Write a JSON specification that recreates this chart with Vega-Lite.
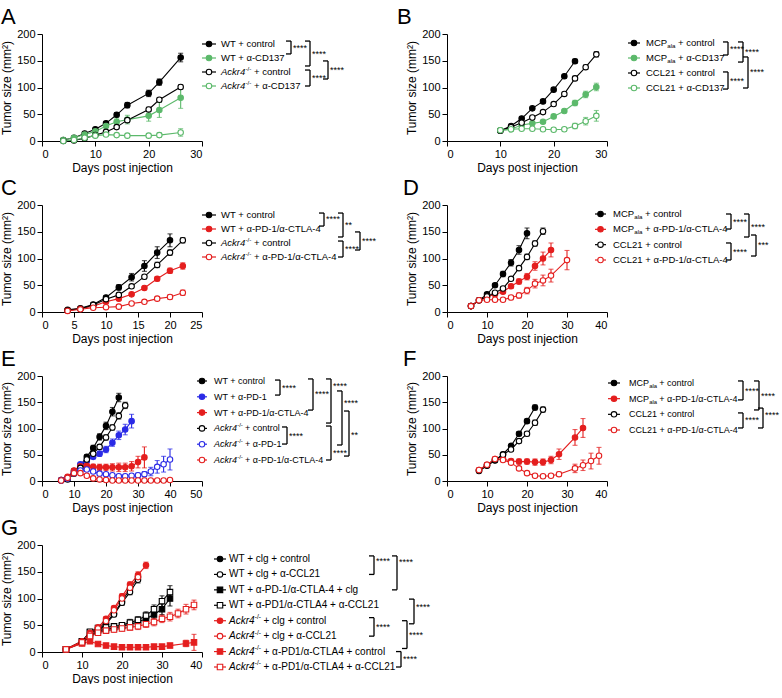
{
"$schema": "https://vega.github.io/schema/vega-lite/v6.json",
"padding": {"left": 0, "top": 6, "right": 0, "bottom": 0},
"columns": 4,
"spacing": {"row": 64, "column": 0},
"bounds": "flush",
"align": "each",
"resolve": {"scale": {"color": "independent", "fill": "independent", "stroke": "independent", "shape": "independent", "x": "independent", "y": "independent"}},
"config": {
 "view": {"stroke": null},
 "font": "Liberation Sans",
 "axis": {"grid": false, "domainColor": "#000", "tickColor": "#000", "labelColor": "#000", "titleColor": "#000", "labelFont": "Liberation Sans", "titleFont": "Liberation Sans", "labelFontSize": 11, "titleFontSize": 12, "titleFontWeight": "normal", "tickSize": 5, "domainWidth": 1, "tickWidth": 1, "labelPadding": 2, "titlePadding": 3},
 "title": {"font": "Liberation Sans", "fontSize": 22, "fontWeight": "normal", "anchor": "start", "frame": "group", "offset": -1, "color": "#000"},
 "text": {"font": "Liberation Sans", "color": "#000"},
 "point": {"size": 30}
},
"datasets": {
 "A": [
  {"g":"A1","d":4,"v":2,"e":0},{"g":"A1","d":6,"v":6,"e":1},{"g":"A1","d":8,"v":14,"e":2},{"g":"A1","d":10,"v":22,"e":2},{"g":"A1","d":12,"v":33,"e":3},{"g":"A1","d":14,"v":49,"e":4},{"g":"A1","d":16,"v":67,"e":5},{"g":"A1","d":20,"v":89,"e":6},{"g":"A1","d":22,"v":110,"e":6},{"g":"A1","d":26,"v":156,"e":8},
  {"g":"A2","d":4,"v":2,"e":0},{"g":"A2","d":6,"v":6,"e":1},{"g":"A2","d":8,"v":12,"e":2},{"g":"A2","d":10,"v":18,"e":2},{"g":"A2","d":12,"v":28,"e":3},{"g":"A2","d":14,"v":36,"e":7},{"g":"A2","d":16,"v":40,"e":8},{"g":"A2","d":20,"v":47,"e":10},{"g":"A2","d":22,"v":58,"e":14},{"g":"A2","d":26,"v":81,"e":20},
  {"g":"A3","d":4,"v":0,"e":0},{"g":"A3","d":6,"v":1,"e":1},{"g":"A3","d":8,"v":5,"e":1},{"g":"A3","d":10,"v":11,"e":2},{"g":"A3","d":12,"v":17,"e":2},{"g":"A3","d":14,"v":26,"e":3},{"g":"A3","d":16,"v":39,"e":3},{"g":"A3","d":20,"v":59,"e":4},{"g":"A3","d":22,"v":77,"e":4},{"g":"A3","d":26,"v":101,"e":4},
  {"g":"A4","d":4,"v":0,"e":0},{"g":"A4","d":6,"v":2,"e":1},{"g":"A4","d":8,"v":6,"e":1},{"g":"A4","d":10,"v":10,"e":2},{"g":"A4","d":12,"v":12,"e":2},{"g":"A4","d":14,"v":11,"e":2},{"g":"A4","d":16,"v":10,"e":2},{"g":"A4","d":20,"v":10,"e":2},{"g":"A4","d":22,"v":11,"e":4},{"g":"A4","d":26,"v":16,"e":7}
 ],
 "B": [
  {"g":"B1","d":10,"v":19,"e":1},{"g":"B1","d":12,"v":28,"e":2},{"g":"B1","d":14,"v":42,"e":2},{"g":"B1","d":16,"v":61,"e":2},{"g":"B1","d":18,"v":74,"e":3},{"g":"B1","d":20,"v":96,"e":3},{"g":"B1","d":22,"v":121,"e":3},{"g":"B1","d":24,"v":149,"e":4},
  {"g":"B2","d":10,"v":20,"e":1},{"g":"B2","d":12,"v":22,"e":1},{"g":"B2","d":14,"v":30,"e":2},{"g":"B2","d":16,"v":33,"e":2},{"g":"B2","d":18,"v":36,"e":2},{"g":"B2","d":20,"v":46,"e":3},{"g":"B2","d":22,"v":56,"e":3},{"g":"B2","d":24,"v":71,"e":5},{"g":"B2","d":26,"v":87,"e":6},{"g":"B2","d":28,"v":101,"e":7},
  {"g":"B3","d":10,"v":19,"e":1},{"g":"B3","d":12,"v":26,"e":2},{"g":"B3","d":14,"v":34,"e":2},{"g":"B3","d":16,"v":44,"e":2},{"g":"B3","d":18,"v":54,"e":3},{"g":"B3","d":20,"v":69,"e":3},{"g":"B3","d":22,"v":88,"e":3},{"g":"B3","d":24,"v":117,"e":4},{"g":"B3","d":26,"v":138,"e":4},{"g":"B3","d":28,"v":162,"e":5},
  {"g":"B4","d":10,"v":20,"e":1},{"g":"B4","d":12,"v":22,"e":1},{"g":"B4","d":14,"v":23,"e":2},{"g":"B4","d":16,"v":23,"e":2},{"g":"B4","d":18,"v":22,"e":2},{"g":"B4","d":20,"v":21,"e":2},{"g":"B4","d":22,"v":22,"e":3},{"g":"B4","d":24,"v":28,"e":5},{"g":"B4","d":26,"v":37,"e":7},{"g":"B4","d":28,"v":47,"e":10}
 ],
 "C": [
  {"g":"C1","d":4,"v":4,"e":1},{"g":"C1","d":6,"v":7,"e":1},{"g":"C1","d":8,"v":14,"e":2},{"g":"C1","d":10,"v":27,"e":3},{"g":"C1","d":12,"v":46,"e":5},{"g":"C1","d":14,"v":65,"e":7},{"g":"C1","d":16,"v":86,"e":10},{"g":"C1","d":18,"v":111,"e":11},{"g":"C1","d":20,"v":134,"e":12},
  {"g":"C2","d":4,"v":3,"e":1},{"g":"C2","d":6,"v":6,"e":1},{"g":"C2","d":8,"v":11,"e":1},{"g":"C2","d":10,"v":19,"e":2},{"g":"C2","d":12,"v":25,"e":2},{"g":"C2","d":14,"v":33,"e":2},{"g":"C2","d":16,"v":45,"e":3},{"g":"C2","d":18,"v":62,"e":4},{"g":"C2","d":20,"v":77,"e":5},{"g":"C2","d":22,"v":86,"e":6},
  {"g":"C3","d":4,"v":3,"e":1},{"g":"C3","d":6,"v":6,"e":1},{"g":"C3","d":8,"v":13,"e":1},{"g":"C3","d":10,"v":24,"e":2},{"g":"C3","d":12,"v":32,"e":3},{"g":"C3","d":14,"v":48,"e":3},{"g":"C3","d":16,"v":66,"e":4},{"g":"C3","d":18,"v":88,"e":5},{"g":"C3","d":20,"v":111,"e":5},{"g":"C3","d":22,"v":134,"e":5},
  {"g":"C4","d":4,"v":2,"e":1},{"g":"C4","d":6,"v":5,"e":1},{"g":"C4","d":8,"v":8,"e":1},{"g":"C4","d":10,"v":9,"e":1},{"g":"C4","d":12,"v":10,"e":2},{"g":"C4","d":14,"v":16,"e":2},{"g":"C4","d":16,"v":19,"e":2},{"g":"C4","d":18,"v":25,"e":3},{"g":"C4","d":20,"v":28,"e":4},{"g":"C4","d":22,"v":36,"e":5}
 ],
 "D": [
  {"g":"D1","d":6,"v":11,"e":1},{"g":"D1","d":8,"v":22,"e":1},{"g":"D1","d":10,"v":33,"e":2},{"g":"D1","d":12,"v":50,"e":3},{"g":"D1","d":14,"v":71,"e":5},{"g":"D1","d":16,"v":92,"e":6},{"g":"D1","d":18,"v":116,"e":8},{"g":"D1","d":20,"v":147,"e":10},
  {"g":"D2","d":6,"v":11,"e":1},{"g":"D2","d":8,"v":22,"e":1},{"g":"D2","d":10,"v":28,"e":2},{"g":"D2","d":12,"v":33,"e":2},{"g":"D2","d":14,"v":38,"e":3},{"g":"D2","d":16,"v":48,"e":4},{"g":"D2","d":18,"v":57,"e":5},{"g":"D2","d":20,"v":66,"e":6},{"g":"D2","d":22,"v":86,"e":8},{"g":"D2","d":24,"v":100,"e":12},{"g":"D2","d":26,"v":116,"e":13},
  {"g":"D3","d":6,"v":11,"e":1},{"g":"D3","d":8,"v":22,"e":1},{"g":"D3","d":10,"v":29,"e":2},{"g":"D3","d":12,"v":36,"e":2},{"g":"D3","d":14,"v":44,"e":3},{"g":"D3","d":16,"v":62,"e":3},{"g":"D3","d":18,"v":82,"e":4},{"g":"D3","d":20,"v":103,"e":5},{"g":"D3","d":22,"v":128,"e":5},{"g":"D3","d":24,"v":151,"e":6},
  {"g":"D4","d":6,"v":11,"e":1},{"g":"D4","d":8,"v":22,"e":1},{"g":"D4","d":10,"v":23,"e":2},{"g":"D4","d":12,"v":23,"e":2},{"g":"D4","d":14,"v":23,"e":2},{"g":"D4","d":16,"v":27,"e":4},{"g":"D4","d":18,"v":31,"e":5},{"g":"D4","d":20,"v":40,"e":6},{"g":"D4","d":22,"v":53,"e":8},{"g":"D4","d":24,"v":59,"e":10},{"g":"D4","d":26,"v":68,"e":12},{"g":"D4","d":30,"v":97,"e":18}
 ],
 "E": [
  {"g":"E1","d":6,"v":2,"e":1},{"g":"E1","d":8,"v":6,"e":1},{"g":"E1","d":10,"v":19,"e":2},{"g":"E1","d":12,"v":30,"e":3},{"g":"E1","d":14,"v":46,"e":4},{"g":"E1","d":16,"v":63,"e":5},{"g":"E1","d":18,"v":84,"e":6},{"g":"E1","d":20,"v":105,"e":7},{"g":"E1","d":22,"v":132,"e":8},{"g":"E1","d":24,"v":159,"e":8},
  {"g":"E2","d":6,"v":2,"e":1},{"g":"E2","d":8,"v":6,"e":1},{"g":"E2","d":10,"v":17,"e":2},{"g":"E2","d":12,"v":32,"e":3},{"g":"E2","d":14,"v":38,"e":3},{"g":"E2","d":16,"v":46,"e":4},{"g":"E2","d":18,"v":52,"e":5},{"g":"E2","d":20,"v":60,"e":6},{"g":"E2","d":22,"v":73,"e":7},{"g":"E2","d":24,"v":87,"e":8},{"g":"E2","d":26,"v":98,"e":10},{"g":"E2","d":28,"v":114,"e":13},
  {"g":"E3","d":6,"v":2,"e":1},{"g":"E3","d":8,"v":8,"e":1},{"g":"E3","d":10,"v":20,"e":2},{"g":"E3","d":12,"v":28,"e":3},{"g":"E3","d":14,"v":29,"e":4},{"g":"E3","d":16,"v":27,"e":5},{"g":"E3","d":18,"v":26,"e":6},{"g":"E3","d":20,"v":26,"e":6},{"g":"E3","d":22,"v":26,"e":7},{"g":"E3","d":24,"v":26,"e":8},{"g":"E3","d":26,"v":26,"e":8},{"g":"E3","d":28,"v":28,"e":9},{"g":"E3","d":30,"v":36,"e":11},{"g":"E3","d":32,"v":45,"e":20},
  {"g":"E4","d":6,"v":1,"e":1},{"g":"E4","d":8,"v":3,"e":1},{"g":"E4","d":10,"v":14,"e":2},{"g":"E4","d":12,"v":25,"e":3},{"g":"E4","d":14,"v":41,"e":3},{"g":"E4","d":16,"v":52,"e":4},{"g":"E4","d":18,"v":65,"e":4},{"g":"E4","d":20,"v":83,"e":5},{"g":"E4","d":22,"v":102,"e":5},{"g":"E4","d":24,"v":124,"e":6},{"g":"E4","d":26,"v":144,"e":6},
  {"g":"E5","d":6,"v":1,"e":1},{"g":"E5","d":8,"v":5,"e":1},{"g":"E5","d":10,"v":15,"e":2},{"g":"E5","d":12,"v":20,"e":3},{"g":"E5","d":14,"v":22,"e":3},{"g":"E5","d":16,"v":18,"e":3},{"g":"E5","d":18,"v":14,"e":3},{"g":"E5","d":20,"v":13,"e":3},{"g":"E5","d":22,"v":11,"e":3},{"g":"E5","d":24,"v":9,"e":3},{"g":"E5","d":26,"v":9,"e":3},{"g":"E5","d":28,"v":10,"e":3},{"g":"E5","d":30,"v":11,"e":4},{"g":"E5","d":32,"v":13,"e":5},{"g":"E5","d":34,"v":18,"e":8},{"g":"E5","d":36,"v":27,"e":12},{"g":"E5","d":38,"v":32,"e":15},{"g":"E5","d":40,"v":41,"e":20},
  {"g":"E6","d":6,"v":1,"e":1},{"g":"E6","d":8,"v":6,"e":1},{"g":"E6","d":10,"v":15,"e":2},{"g":"E6","d":12,"v":15,"e":2},{"g":"E6","d":14,"v":10,"e":2},{"g":"E6","d":16,"v":5,"e":1},{"g":"E6","d":18,"v":3,"e":1},{"g":"E6","d":20,"v":2,"e":1},{"g":"E6","d":22,"v":1,"e":0},{"g":"E6","d":24,"v":1,"e":0},{"g":"E6","d":26,"v":1,"e":0},{"g":"E6","d":28,"v":1,"e":0},{"g":"E6","d":30,"v":1,"e":0},{"g":"E6","d":32,"v":1,"e":0},{"g":"E6","d":34,"v":1,"e":0},{"g":"E6","d":36,"v":1,"e":0},{"g":"E6","d":38,"v":1,"e":0},{"g":"E6","d":40,"v":2,"e":1}
 ],
 "F": [
  {"g":"F1","d":8,"v":19,"e":1},{"g":"F1","d":10,"v":29,"e":2},{"g":"F1","d":12,"v":39,"e":2},{"g":"F1","d":14,"v":51,"e":3},{"g":"F1","d":16,"v":67,"e":3},{"g":"F1","d":18,"v":90,"e":4},{"g":"F1","d":20,"v":114,"e":4},{"g":"F1","d":22,"v":140,"e":5},
  {"g":"F2","d":8,"v":21,"e":1},{"g":"F2","d":10,"v":31,"e":2},{"g":"F2","d":12,"v":42,"e":2},{"g":"F2","d":14,"v":42,"e":3},{"g":"F2","d":16,"v":38,"e":4},{"g":"F2","d":18,"v":37,"e":5},{"g":"F2","d":20,"v":37,"e":5},{"g":"F2","d":22,"v":36,"e":6},{"g":"F2","d":24,"v":36,"e":6},{"g":"F2","d":26,"v":40,"e":7},{"g":"F2","d":28,"v":51,"e":10},{"g":"F2","d":32,"v":83,"e":15},{"g":"F2","d":34,"v":101,"e":18},
  {"g":"F3","d":8,"v":20,"e":1},{"g":"F3","d":10,"v":30,"e":2},{"g":"F3","d":12,"v":40,"e":2},{"g":"F3","d":14,"v":50,"e":3},{"g":"F3","d":16,"v":60,"e":3},{"g":"F3","d":18,"v":76,"e":4},{"g":"F3","d":20,"v":90,"e":4},{"g":"F3","d":22,"v":111,"e":5},{"g":"F3","d":24,"v":136,"e":5},
  {"g":"F4","d":8,"v":21,"e":1},{"g":"F4","d":10,"v":31,"e":2},{"g":"F4","d":12,"v":42,"e":2},{"g":"F4","d":14,"v":40,"e":3},{"g":"F4","d":16,"v":35,"e":3},{"g":"F4","d":18,"v":24,"e":3},{"g":"F4","d":20,"v":15,"e":3},{"g":"F4","d":22,"v":10,"e":3},{"g":"F4","d":24,"v":9,"e":3},{"g":"F4","d":26,"v":10,"e":3},{"g":"F4","d":28,"v":13,"e":4},{"g":"F4","d":32,"v":24,"e":8},{"g":"F4","d":34,"v":30,"e":10},{"g":"F4","d":36,"v":38,"e":15},{"g":"F4","d":38,"v":48,"e":16}
 ],
 "G": [
  {"g":"G1","d":6,"v":5,"e":1},{"g":"G1","d":10,"v":18,"e":2},{"g":"G1","d":12,"v":30,"e":3},{"g":"G1","d":14,"v":40,"e":3},{"g":"G1","d":16,"v":55,"e":4},{"g":"G1","d":18,"v":72,"e":4},{"g":"G1","d":20,"v":95,"e":5},{"g":"G1","d":22,"v":118,"e":5},{"g":"G1","d":24,"v":140,"e":6},
  {"g":"G2","d":6,"v":5,"e":1},{"g":"G2","d":10,"v":17,"e":2},{"g":"G2","d":12,"v":28,"e":3},{"g":"G2","d":14,"v":38,"e":3},{"g":"G2","d":16,"v":52,"e":4},{"g":"G2","d":18,"v":70,"e":4},{"g":"G2","d":20,"v":92,"e":5},{"g":"G2","d":22,"v":112,"e":5},{"g":"G2","d":24,"v":135,"e":6},
  {"g":"G3","d":6,"v":5,"e":1},{"g":"G3","d":10,"v":20,"e":2},{"g":"G3","d":12,"v":37,"e":3},{"g":"G3","d":14,"v":40,"e":4},{"g":"G3","d":16,"v":42,"e":4},{"g":"G3","d":18,"v":45,"e":5},{"g":"G3","d":20,"v":48,"e":5},{"g":"G3","d":22,"v":52,"e":6},{"g":"G3","d":24,"v":56,"e":6},{"g":"G3","d":26,"v":62,"e":7},{"g":"G3","d":28,"v":70,"e":8},{"g":"G3","d":30,"v":80,"e":10},{"g":"G3","d":32,"v":100,"e":14},
  {"g":"G4","d":6,"v":5,"e":1},{"g":"G4","d":10,"v":20,"e":2},{"g":"G4","d":12,"v":38,"e":3},{"g":"G4","d":14,"v":45,"e":4},{"g":"G4","d":16,"v":46,"e":4},{"g":"G4","d":18,"v":48,"e":5},{"g":"G4","d":20,"v":50,"e":5},{"g":"G4","d":22,"v":55,"e":6},{"g":"G4","d":24,"v":60,"e":6},{"g":"G4","d":26,"v":68,"e":7},{"g":"G4","d":28,"v":80,"e":8},{"g":"G4","d":30,"v":95,"e":10},{"g":"G4","d":32,"v":112,"e":12},
  {"g":"G5","d":6,"v":5,"e":1},{"g":"G5","d":10,"v":20,"e":2},{"g":"G5","d":12,"v":36,"e":3},{"g":"G5","d":14,"v":46,"e":3},{"g":"G5","d":16,"v":62,"e":4},{"g":"G5","d":18,"v":82,"e":4},{"g":"G5","d":20,"v":104,"e":5},{"g":"G5","d":22,"v":126,"e":5},{"g":"G5","d":24,"v":144,"e":6},{"g":"G5","d":26,"v":162,"e":6},
  {"g":"G6","d":6,"v":5,"e":1},{"g":"G6","d":10,"v":19,"e":2},{"g":"G6","d":12,"v":33,"e":3},{"g":"G6","d":14,"v":44,"e":3},{"g":"G6","d":16,"v":58,"e":4},{"g":"G6","d":18,"v":78,"e":4},{"g":"G6","d":20,"v":100,"e":5},{"g":"G6","d":22,"v":120,"e":5},{"g":"G6","d":24,"v":140,"e":6},
  {"g":"G7","d":6,"v":5,"e":1},{"g":"G7","d":10,"v":16,"e":2},{"g":"G7","d":12,"v":20,"e":3},{"g":"G7","d":14,"v":15,"e":3},{"g":"G7","d":16,"v":12,"e":3},{"g":"G7","d":18,"v":10,"e":3},{"g":"G7","d":20,"v":9,"e":3},{"g":"G7","d":22,"v":9,"e":3},{"g":"G7","d":24,"v":9,"e":3},{"g":"G7","d":26,"v":9,"e":3},{"g":"G7","d":28,"v":10,"e":3},{"g":"G7","d":30,"v":10,"e":3},{"g":"G7","d":32,"v":12,"e":4},{"g":"G7","d":36,"v":16,"e":6},{"g":"G7","d":38,"v":18,"e":15},
  {"g":"G8","d":6,"v":5,"e":1},{"g":"G8","d":10,"v":18,"e":2},{"g":"G8","d":12,"v":30,"e":3},{"g":"G8","d":14,"v":36,"e":4},{"g":"G8","d":16,"v":40,"e":4},{"g":"G8","d":18,"v":42,"e":5},{"g":"G8","d":20,"v":44,"e":5},{"g":"G8","d":22,"v":46,"e":5},{"g":"G8","d":24,"v":48,"e":6},{"g":"G8","d":26,"v":52,"e":6},{"g":"G8","d":28,"v":56,"e":7},{"g":"G8","d":30,"v":62,"e":7},{"g":"G8","d":32,"v":66,"e":8},{"g":"G8","d":34,"v":72,"e":8},{"g":"G8","d":36,"v":80,"e":9},{"g":"G8","d":38,"v":88,"e":9}
 ],
 "LA": [
  {"g":"A1","r":1,"k":"plain","pre":"WT + control"},
  {"g":"A2","r":2,"k":"plain","pre":"WT + α-CD137"},
  {"g":"A3","r":3,"k":"ital","pre":"Ackr4","sup":"-/-","rest":"+ control"},
  {"g":"A4","r":4,"k":"ital","pre":"Ackr4","sup":"-/-","rest":"+ α-CD137"}
 ],
 "LB": [
  {"g":"B1","r":1,"k":"sub","pre":"MCP","sup":"ala","rest":"+ control"},
  {"g":"B2","r":2,"k":"sub","pre":"MCP","sup":"ala","rest":"+ α-CD137"},
  {"g":"B3","r":3,"k":"plain","pre":"CCL21 + control"},
  {"g":"B4","r":4,"k":"plain","pre":"CCL21 + α-CD137"}
 ],
 "LC": [
  {"g":"C1","r":1,"k":"plain","pre":"WT + control"},
  {"g":"C2","r":2,"k":"plain","pre":"WT + α-PD-1/α-CTLA-4"},
  {"g":"C3","r":3,"k":"ital","pre":"Ackr4","sup":"-/-","rest":"+ control"},
  {"g":"C4","r":4,"k":"ital","pre":"Ackr4","sup":"-/-","rest":"+ α-PD-1/α-CTLA-4"}
 ],
 "LD": [
  {"g":"D1","r":1,"k":"sub","pre":"MCP","sup":"ala","rest":"+ control"},
  {"g":"D2","r":2,"k":"sub","pre":"MCP","sup":"ala","rest":"+ α-PD-1/α-CTLA-4"},
  {"g":"D3","r":3,"k":"plain","pre":"CCL21 + control"},
  {"g":"D4","r":4,"k":"plain","pre":"CCL21 + α-PD-1/α-CTLA-4"}
 ],
 "LE": [
  {"g":"E1","r":1,"k":"plain","pre":"WT + control"},
  {"g":"E2","r":2,"k":"plain","pre":"WT + α-PD-1"},
  {"g":"E3","r":3,"k":"plain","pre":"WT + α-PD-1/α-CTLA-4"},
  {"g":"E4","r":4,"k":"ital","pre":"Ackr4","sup":"-/-","rest":"+ control"},
  {"g":"E5","r":5,"k":"ital","pre":"Ackr4","sup":"-/-","rest":"+ α-PD-1"},
  {"g":"E6","r":6,"k":"ital","pre":"Ackr4","sup":"-/-","rest":"+ α-PD-1/α-CTLA-4"}
 ],
 "LF": [
  {"g":"F1","r":1,"k":"sub","pre":"MCP","sup":"ala","rest":"+ control"},
  {"g":"F2","r":2,"k":"sub","pre":"MCP","sup":"ala","rest":"+ α-PD-1/α-CTLA-4"},
  {"g":"F3","r":3,"k":"plain","pre":"CCL21 + control"},
  {"g":"F4","r":4,"k":"plain","pre":"CCL21 + α-PD-1/α-CTLA-4"}
 ],
 "LG": [
  {"g":"G1","r":1,"k":"plain","pre":"WT + clg + control"},
  {"g":"G2","r":2,"k":"plain","pre":"WT + clg + α-CCL21"},
  {"g":"G3","r":3,"k":"plain","pre":"WT + α-PD-1/α-CTLA-4 + clg"},
  {"g":"G4","r":4,"k":"plain","pre":"WT + α-PD1/α-CTLA4 + α-CCL21"},
  {"g":"G5","r":5,"k":"ital","pre":"Ackr4","sup":"-/-","rest":"+ clg + control"},
  {"g":"G6","r":6,"k":"ital","pre":"Ackr4","sup":"-/-","rest":"+ clg + α-CCL21"},
  {"g":"G7","r":7,"k":"ital","pre":"Ackr4","sup":"-/-","rest":"+ α-PD1/α-CTLA4 + control"},
  {"g":"G8","r":8,"k":"ital","pre":"Ackr4","sup":"-/-","rest":"+ α-PD1/α-CTLA4 + α-CCL21"}
 ],
 "BA": [
  {"x":89,"xa":84,"y1":0.79,"y2":1.71,"sy":1.25,"s":"****"},
  {"x":108,"xa":103,"y1":0.79,"y2":2.57,"sy":1.68,"s":"****"},
  {"x":108,"xa":103,"y1":2.86,"y2":4.0,"sy":3.43,"s":"****"},
  {"x":126,"xa":121,"y1":2.21,"y2":3.5,"sy":2.86,"s":"****"}
 ],
 "BB": [
  {"x":121,"xa":116,"y1":0.93,"y2":1.8,"sy":1.37,"s":"****"},
  {"x":136,"xa":131,"y1":0.93,"y2":2.27,"sy":1.6,"s":"****"},
  {"x":121,"xa":116,"y1":2.93,"y2":4.07,"sy":3.5,"s":"****"},
  {"x":141,"xa":136,"y1":1.93,"y2":4.0,"sy":2.93,"s":"****"}
 ],
 "BC": [
  {"x":122,"xa":117,"y1":0.86,"y2":1.79,"sy":1.32,"s":"****"},
  {"x":141,"xa":136,"y1":0.86,"y2":2.57,"sy":1.71,"s":"**"},
  {"x":141,"xa":136,"y1":2.86,"y2":4.0,"sy":3.43,"s":"****"},
  {"x":158,"xa":153,"y1":2.21,"y2":3.5,"sy":2.86,"s":"****"}
 ],
 "BD": [
  {"x":124,"xa":119,"y1":1.0,"y2":1.98,"sy":1.5,"s":"****"},
  {"x":142,"xa":137,"y1":1.0,"y2":2.5,"sy":1.85,"s":"****"},
  {"x":124,"xa":119,"y1":2.89,"y2":4.0,"sy":3.45,"s":"****"},
  {"x":149,"xa":144,"y1":2.37,"y2":3.74,"sy":3.05,"s":"***"}
 ],
 "BE": [
  {"x":78,"xa":73,"y1":0.94,"y2":1.89,"sy":1.44,"s":"****"},
  {"x":111,"xa":106,"y1":0.87,"y2":2.84,"sy":1.82,"s":"****"},
  {"x":129,"xa":124,"y1":0.87,"y2":3.66,"sy":1.32,"s":"****"},
  {"x":140,"xa":135,"y1":1.63,"y2":5.05,"sy":2.39,"s":"****"},
  {"x":147,"xa":142,"y1":2.9,"y2":5.75,"sy":4.42,"s":"**"},
  {"x":85,"xa":80,"y1":3.91,"y2":4.99,"sy":4.48,"s":"****"},
  {"x":129,"xa":124,"y1":3.85,"y2":6.0,"sy":5.56,"s":"****"}
 ],
 "BF": [
  {"x":136,"xa":131,"y1":0.87,"y2":2.08,"sy":1.51,"s":"****"},
  {"x":152,"xa":147,"y1":0.87,"y2":2.72,"sy":1.83,"s":"****"},
  {"x":136,"xa":131,"y1":2.91,"y2":3.87,"sy":3.36,"s":"****"},
  {"x":156,"xa":151,"y1":2.6,"y2":3.87,"sy":3.04,"s":"****"}
 ],
 "BG": [
  {"x":172,"xa":167,"y1":0.8,"y2":2.0,"sy":1.1,"s":"****"},
  {"x":195,"xa":190,"y1":0.8,"y2":3.0,"sy":1.2,"s":"****"},
  {"x":212,"xa":207,"y1":3.6,"y2":5.2,"sy":4.1,"s":"****"},
  {"x":172,"xa":167,"y1":4.8,"y2":6.0,"sy":5.4,"s":"****"},
  {"x":205,"xa":200,"y1":5.0,"y2":6.8,"sy":5.9,"s":"****"},
  {"x":199,"xa":194,"y1":7.0,"y2":8.0,"sy":7.5,"s":"****"}
 ]
},
"concat": [
 {
  "title": {"text": "A", "dx": -41},
  "width": 160, "height": 107,
  "data": {"name": "A"},
  "encoding": {
   "x": {"field": "d", "type": "quantitative", "scale": {"domain": [0, 30], "nice": false, "zero": false}, "axis": {"title": "Days post injection", "values": [0, 10, 20, 30]}},
   "y": {"field": "v", "type": "quantitative", "scale": {"domain": [0, 200], "nice": false}, "axis": {"title": "Tumor size (mm²)", "values": [0, 50, 100, 150, 200]}}
  },
  "layer": [
   {"mark": {"type": "line", "strokeWidth": 1.1}, "encoding": {"color": {"field": "g", "type": "nominal", "scale": {"domain": ["A1","A2","A3","A4"], "range": ["#000000","#5cb96b","#000000","#5cb96b"]}, "legend": null}}},
   {"transform": [{"filter": "datum.e > 0"}], "mark": {"type": "errorbar", "ticks": {"size": 5}, "thickness": 1.1}, "encoding": {"yError": {"field": "e"}, "color": {"field": "g", "type": "nominal", "scale": {"domain": ["A1","A2","A3","A4"], "range": ["#000000","#5cb96b","#000000","#5cb96b"]}, "legend": null}}},
   {"mark": {"type": "point", "filled": true, "shape": "circle", "size": 30, "strokeWidth": 1.1, "opacity": 1}, "encoding": {"stroke": {"field": "g", "type": "nominal", "scale": {"domain": ["A1","A2","A3","A4"], "range": ["#000000","#5cb96b","#000000","#5cb96b"]}, "legend": null}, "fill": {"field": "g", "type": "nominal", "scale": {"domain": ["A1","A2","A3","A4"], "range": ["#000000","#5cb96b","#ffffff","#ffffff"]}, "legend": null}}}
  ]
 },
 {
  "width": 245, "height": 107,
  "layer": [
   {"data": {"name": "LA"}, "mark": {"type": "rule", "strokeWidth": 1.2}, "encoding": {"x": {"datum": 0, "type": "quantitative", "scale": {"domain": [0, 245], "nice": false, "zero": false}, "axis": null}, "x2": {"datum": 14}, "y": {"field": "r", "type": "quantitative", "scale": {"domain": [1, 4], "range": [10, 52], "nice": false, "zero": false}, "axis": null}, "color": {"field": "g", "type": "nominal", "scale": {"domain": ["A1","A2","A3","A4"], "range": ["#000000","#5cb96b","#000000","#5cb96b"]}, "legend": null}}},
   {"data": {"name": "LA"}, "mark": {"type": "point", "filled": true, "shape": "circle", "size": 30, "strokeWidth": 1.1, "opacity": 1}, "encoding": {"x": {"datum": 7, "type": "quantitative", "scale": {"domain": [0, 245], "nice": false, "zero": false}, "axis": null}, "y": {"field": "r", "type": "quantitative", "scale": {"domain": [1, 4], "range": [10, 52], "nice": false, "zero": false}, "axis": null}, "stroke": {"field": "g", "type": "nominal", "scale": {"domain": ["A1","A2","A3","A4"], "range": ["#000000","#5cb96b","#000000","#5cb96b"]}, "legend": null}, "fill": {"field": "g", "type": "nominal", "scale": {"domain": ["A1","A2","A3","A4"], "range": ["#000000","#5cb96b","#ffffff","#ffffff"]}, "legend": null}}},
   {"data": {"name": "LA"}, "transform": [{"filter": "datum.k == 'plain'"}], "mark": {"type": "text", "align": "left", "baseline": "middle", "fontSize": 9.5}, "encoding": {"x": {"datum": 19, "type": "quantitative", "scale": {"domain": [0, 245], "nice": false, "zero": false}, "axis": null}, "y": {"field": "r", "type": "quantitative", "scale": {"domain": [1, 4], "range": [10, 52], "nice": false, "zero": false}, "axis": null}, "text": {"field": "pre"}}},
   {"data": {"name": "LA"}, "transform": [{"filter": "datum.k == 'ital'"}], "mark": {"type": "text", "align": "left", "baseline": "middle", "fontSize": 9.5, "fontStyle": "italic"}, "encoding": {"x": {"datum": 19, "type": "quantitative", "scale": {"domain": [0, 245], "nice": false, "zero": false}, "axis": null}, "y": {"field": "r", "type": "quantitative", "scale": {"domain": [1, 4], "range": [10, 52], "nice": false, "zero": false}, "axis": null}, "text": {"field": "pre"}}},
   {"data": {"name": "LA"}, "transform": [{"filter": "datum.k == 'ital'"}], "mark": {"type": "text", "align": "left", "baseline": "middle", "fontSize": 6.2, "dx": 24.5, "dy": -3.5}, "encoding": {"x": {"datum": 19, "type": "quantitative", "scale": {"domain": [0, 245], "nice": false, "zero": false}, "axis": null}, "y": {"field": "r", "type": "quantitative", "scale": {"domain": [1, 4], "range": [10, 52], "nice": false, "zero": false}, "axis": null}, "text": {"field": "sup"}}},
   {"data": {"name": "LA"}, "transform": [{"filter": "datum.k == 'ital'"}], "mark": {"type": "text", "align": "left", "baseline": "middle", "fontSize": 9.5, "dx": 33}, "encoding": {"x": {"datum": 19, "type": "quantitative", "scale": {"domain": [0, 245], "nice": false, "zero": false}, "axis": null}, "y": {"field": "r", "type": "quantitative", "scale": {"domain": [1, 4], "range": [10, 52], "nice": false, "zero": false}, "axis": null}, "text": {"field": "rest"}}},
   {"data": {"name": "BA"}, "mark": {"type": "rule", "color": "#000", "strokeWidth": 1.3}, "encoding": {"x": {"field": "x", "type": "quantitative", "scale": {"domain": [0, 245], "nice": false, "zero": false}, "axis": null}, "y": {"field": "y1", "type": "quantitative", "scale": {"domain": [1, 4], "range": [10, 52], "nice": false, "zero": false}, "axis": null}, "y2": {"field": "y2"}}},
   {"data": {"name": "BA"}, "mark": {"type": "rule", "color": "#000", "strokeWidth": 1.3}, "encoding": {"x": {"field": "xa", "type": "quantitative", "scale": {"domain": [0, 245], "nice": false, "zero": false}, "axis": null}, "x2": {"field": "x"}, "y": {"field": "y1", "type": "quantitative", "scale": {"domain": [1, 4], "range": [10, 52], "nice": false, "zero": false}, "axis": null}}},
   {"data": {"name": "BA"}, "mark": {"type": "rule", "color": "#000", "strokeWidth": 1.3}, "encoding": {"x": {"field": "xa", "type": "quantitative", "scale": {"domain": [0, 245], "nice": false, "zero": false}, "axis": null}, "x2": {"field": "x"}, "y": {"field": "y2", "type": "quantitative", "scale": {"domain": [1, 4], "range": [10, 52], "nice": false, "zero": false}, "axis": null}}},
   {"data": {"name": "BA"}, "mark": {"type": "text", "align": "left", "baseline": "middle", "fontSize": 9, "dx": 2}, "encoding": {"x": {"field": "x", "type": "quantitative", "scale": {"domain": [0, 245], "nice": false, "zero": false}, "axis": null}, "y": {"field": "sy", "type": "quantitative", "scale": {"domain": [1, 4], "range": [10, 52], "nice": false, "zero": false}, "axis": null}, "text": {"field": "s"}}}
  ]
 },
 {
  "title": {"text": "B", "dx": -50},
  "width": 160, "height": 107,
  "data": {"name": "B"},
  "encoding": {
   "x": {"field": "d", "type": "quantitative", "scale": {"domain": [0, 30], "nice": false, "zero": false}, "axis": {"title": "Days post injection", "values": [0, 10, 20, 30]}},
   "y": {"field": "v", "type": "quantitative", "scale": {"domain": [0, 200], "nice": false}, "axis": {"title": "Tumor size (mm²)", "values": [0, 50, 100, 150, 200]}}
  },
  "layer": [
   {"mark": {"type": "line", "strokeWidth": 1.1}, "encoding": {"color": {"field": "g", "type": "nominal", "scale": {"domain": ["B1","B2","B3","B4"], "range": ["#000000","#5cb96b","#000000","#5cb96b"]}, "legend": null}}},
   {"transform": [{"filter": "datum.e > 0"}], "mark": {"type": "errorbar", "ticks": {"size": 5}, "thickness": 1.1}, "encoding": {"yError": {"field": "e"}, "color": {"field": "g", "type": "nominal", "scale": {"domain": ["B1","B2","B3","B4"], "range": ["#000000","#5cb96b","#000000","#5cb96b"]}, "legend": null}}},
   {"mark": {"type": "point", "filled": true, "shape": "circle", "size": 30, "strokeWidth": 1.1, "opacity": 1}, "encoding": {"stroke": {"field": "g", "type": "nominal", "scale": {"domain": ["B1","B2","B3","B4"], "range": ["#000000","#5cb96b","#000000","#5cb96b"]}, "legend": null}, "fill": {"field": "g", "type": "nominal", "scale": {"domain": ["B1","B2","B3","B4"], "range": ["#000000","#5cb96b","#ffffff","#ffffff"]}, "legend": null}}}
  ]
 },
 {
  "width": 174, "height": 107,
  "layer": [
   {"data": {"name": "LB"}, "mark": {"type": "rule", "strokeWidth": 1.2}, "encoding": {"x": {"datum": 21, "type": "quantitative", "scale": {"domain": [0, 174], "nice": false, "zero": false}, "axis": null}, "x2": {"datum": 33}, "y": {"field": "r", "type": "quantitative", "scale": {"domain": [1, 4], "range": [9, 54], "nice": false, "zero": false}, "axis": null}, "color": {"field": "g", "type": "nominal", "scale": {"domain": ["B1","B2","B3","B4"], "range": ["#000000","#5cb96b","#000000","#5cb96b"]}, "legend": null}}},
   {"data": {"name": "LB"}, "mark": {"type": "point", "filled": true, "shape": "circle", "size": 30, "strokeWidth": 1.1, "opacity": 1}, "encoding": {"x": {"datum": 27, "type": "quantitative", "scale": {"domain": [0, 174], "nice": false, "zero": false}, "axis": null}, "y": {"field": "r", "type": "quantitative", "scale": {"domain": [1, 4], "range": [9, 54], "nice": false, "zero": false}, "axis": null}, "stroke": {"field": "g", "type": "nominal", "scale": {"domain": ["B1","B2","B3","B4"], "range": ["#000000","#5cb96b","#000000","#5cb96b"]}, "legend": null}, "fill": {"field": "g", "type": "nominal", "scale": {"domain": ["B1","B2","B3","B4"], "range": ["#000000","#5cb96b","#ffffff","#ffffff"]}, "legend": null}}},
   {"data": {"name": "LB"}, "transform": [{"filter": "datum.k == 'plain'"}], "mark": {"type": "text", "align": "left", "baseline": "middle", "fontSize": 9.5}, "encoding": {"x": {"datum": 39, "type": "quantitative", "scale": {"domain": [0, 174], "nice": false, "zero": false}, "axis": null}, "y": {"field": "r", "type": "quantitative", "scale": {"domain": [1, 4], "range": [9, 54], "nice": false, "zero": false}, "axis": null}, "text": {"field": "pre"}}},
   {"data": {"name": "LB"}, "transform": [{"filter": "datum.k == 'sub'"}], "mark": {"type": "text", "align": "left", "baseline": "middle", "fontSize": 9.5}, "encoding": {"x": {"datum": 39, "type": "quantitative", "scale": {"domain": [0, 174], "nice": false, "zero": false}, "axis": null}, "y": {"field": "r", "type": "quantitative", "scale": {"domain": [1, 4], "range": [9, 54], "nice": false, "zero": false}, "axis": null}, "text": {"field": "pre"}}},
   {"data": {"name": "LB"}, "transform": [{"filter": "datum.k == 'sub'"}], "mark": {"type": "text", "align": "left", "baseline": "middle", "fontSize": 6.2, "dx": 21.3, "dy": 3}, "encoding": {"x": {"datum": 39, "type": "quantitative", "scale": {"domain": [0, 174], "nice": false, "zero": false}, "axis": null}, "y": {"field": "r", "type": "quantitative", "scale": {"domain": [1, 4], "range": [9, 54], "nice": false, "zero": false}, "axis": null}, "text": {"field": "sup"}}},
   {"data": {"name": "LB"}, "transform": [{"filter": "datum.k == 'sub'"}], "mark": {"type": "text", "align": "left", "baseline": "middle", "fontSize": 9.5, "dx": 32}, "encoding": {"x": {"datum": 39, "type": "quantitative", "scale": {"domain": [0, 174], "nice": false, "zero": false}, "axis": null}, "y": {"field": "r", "type": "quantitative", "scale": {"domain": [1, 4], "range": [9, 54], "nice": false, "zero": false}, "axis": null}, "text": {"field": "rest"}}},
   {"data": {"name": "BB"}, "mark": {"type": "rule", "color": "#000", "strokeWidth": 1.3}, "encoding": {"x": {"field": "x", "type": "quantitative", "scale": {"domain": [0, 174], "nice": false, "zero": false}, "axis": null}, "y": {"field": "y1", "type": "quantitative", "scale": {"domain": [1, 4], "range": [9, 54], "nice": false, "zero": false}, "axis": null}, "y2": {"field": "y2"}}},
   {"data": {"name": "BB"}, "mark": {"type": "rule", "color": "#000", "strokeWidth": 1.3}, "encoding": {"x": {"field": "xa", "type": "quantitative", "scale": {"domain": [0, 174], "nice": false, "zero": false}, "axis": null}, "x2": {"field": "x"}, "y": {"field": "y1", "type": "quantitative", "scale": {"domain": [1, 4], "range": [9, 54], "nice": false, "zero": false}, "axis": null}}},
   {"data": {"name": "BB"}, "mark": {"type": "rule", "color": "#000", "strokeWidth": 1.3}, "encoding": {"x": {"field": "xa", "type": "quantitative", "scale": {"domain": [0, 174], "nice": false, "zero": false}, "axis": null}, "x2": {"field": "x"}, "y": {"field": "y2", "type": "quantitative", "scale": {"domain": [1, 4], "range": [9, 54], "nice": false, "zero": false}, "axis": null}}},
   {"data": {"name": "BB"}, "mark": {"type": "text", "align": "left", "baseline": "middle", "fontSize": 9, "dx": 2}, "encoding": {"x": {"field": "x", "type": "quantitative", "scale": {"domain": [0, 174], "nice": false, "zero": false}, "axis": null}, "y": {"field": "sy", "type": "quantitative", "scale": {"domain": [1, 4], "range": [9, 54], "nice": false, "zero": false}, "axis": null}, "text": {"field": "s"}}}
  ]
 },
 {
  "title": {"text": "C", "dx": -41},
  "width": 160, "height": 107,
  "data": {"name": "C"},
  "encoding": {
   "x": {"field": "d", "type": "quantitative", "scale": {"domain": [0, 25], "nice": false, "zero": false}, "axis": {"title": "Days post injection", "values": [0, 5, 10, 15, 20, 25]}},
   "y": {"field": "v", "type": "quantitative", "scale": {"domain": [0, 200], "nice": false}, "axis": {"title": "Tumor size (mm²)", "values": [0, 50, 100, 150, 200]}}
  },
  "layer": [
   {"mark": {"type": "line", "strokeWidth": 1.1}, "encoding": {"color": {"field": "g", "type": "nominal", "scale": {"domain": ["C1","C2","C3","C4"], "range": ["#000000","#e41e1e","#000000","#e41e1e"]}, "legend": null}}},
   {"transform": [{"filter": "datum.e > 0"}], "mark": {"type": "errorbar", "ticks": {"size": 5}, "thickness": 1.1}, "encoding": {"yError": {"field": "e"}, "color": {"field": "g", "type": "nominal", "scale": {"domain": ["C1","C2","C3","C4"], "range": ["#000000","#e41e1e","#000000","#e41e1e"]}, "legend": null}}},
   {"mark": {"type": "point", "filled": true, "shape": "circle", "size": 30, "strokeWidth": 1.1, "opacity": 1}, "encoding": {"stroke": {"field": "g", "type": "nominal", "scale": {"domain": ["C1","C2","C3","C4"], "range": ["#000000","#e41e1e","#000000","#e41e1e"]}, "legend": null}, "fill": {"field": "g", "type": "nominal", "scale": {"domain": ["C1","C2","C3","C4"], "range": ["#000000","#e41e1e","#ffffff","#ffffff"]}, "legend": null}}}
  ]
 },
 {
  "width": 245, "height": 107,
  "layer": [
   {"data": {"name": "LC"}, "mark": {"type": "rule", "strokeWidth": 1.2}, "encoding": {"x": {"datum": 0, "type": "quantitative", "scale": {"domain": [0, 245], "nice": false, "zero": false}, "axis": null}, "x2": {"datum": 14}, "y": {"field": "r", "type": "quantitative", "scale": {"domain": [1, 4], "range": [10, 52], "nice": false, "zero": false}, "axis": null}, "color": {"field": "g", "type": "nominal", "scale": {"domain": ["C1","C2","C3","C4"], "range": ["#000000","#e41e1e","#000000","#e41e1e"]}, "legend": null}}},
   {"data": {"name": "LC"}, "mark": {"type": "point", "filled": true, "shape": "circle", "size": 30, "strokeWidth": 1.1, "opacity": 1}, "encoding": {"x": {"datum": 7, "type": "quantitative", "scale": {"domain": [0, 245], "nice": false, "zero": false}, "axis": null}, "y": {"field": "r", "type": "quantitative", "scale": {"domain": [1, 4], "range": [10, 52], "nice": false, "zero": false}, "axis": null}, "stroke": {"field": "g", "type": "nominal", "scale": {"domain": ["C1","C2","C3","C4"], "range": ["#000000","#e41e1e","#000000","#e41e1e"]}, "legend": null}, "fill": {"field": "g", "type": "nominal", "scale": {"domain": ["C1","C2","C3","C4"], "range": ["#000000","#e41e1e","#ffffff","#ffffff"]}, "legend": null}}},
   {"data": {"name": "LC"}, "transform": [{"filter": "datum.k == 'plain'"}], "mark": {"type": "text", "align": "left", "baseline": "middle", "fontSize": 9.5}, "encoding": {"x": {"datum": 19, "type": "quantitative", "scale": {"domain": [0, 245], "nice": false, "zero": false}, "axis": null}, "y": {"field": "r", "type": "quantitative", "scale": {"domain": [1, 4], "range": [10, 52], "nice": false, "zero": false}, "axis": null}, "text": {"field": "pre"}}},
   {"data": {"name": "LC"}, "transform": [{"filter": "datum.k == 'ital'"}], "mark": {"type": "text", "align": "left", "baseline": "middle", "fontSize": 9.5, "fontStyle": "italic"}, "encoding": {"x": {"datum": 19, "type": "quantitative", "scale": {"domain": [0, 245], "nice": false, "zero": false}, "axis": null}, "y": {"field": "r", "type": "quantitative", "scale": {"domain": [1, 4], "range": [10, 52], "nice": false, "zero": false}, "axis": null}, "text": {"field": "pre"}}},
   {"data": {"name": "LC"}, "transform": [{"filter": "datum.k == 'ital'"}], "mark": {"type": "text", "align": "left", "baseline": "middle", "fontSize": 6.2, "dx": 24.5, "dy": -3.5}, "encoding": {"x": {"datum": 19, "type": "quantitative", "scale": {"domain": [0, 245], "nice": false, "zero": false}, "axis": null}, "y": {"field": "r", "type": "quantitative", "scale": {"domain": [1, 4], "range": [10, 52], "nice": false, "zero": false}, "axis": null}, "text": {"field": "sup"}}},
   {"data": {"name": "LC"}, "transform": [{"filter": "datum.k == 'ital'"}], "mark": {"type": "text", "align": "left", "baseline": "middle", "fontSize": 9.5, "dx": 33}, "encoding": {"x": {"datum": 19, "type": "quantitative", "scale": {"domain": [0, 245], "nice": false, "zero": false}, "axis": null}, "y": {"field": "r", "type": "quantitative", "scale": {"domain": [1, 4], "range": [10, 52], "nice": false, "zero": false}, "axis": null}, "text": {"field": "rest"}}},
   {"data": {"name": "BC"}, "mark": {"type": "rule", "color": "#000", "strokeWidth": 1.3}, "encoding": {"x": {"field": "x", "type": "quantitative", "scale": {"domain": [0, 245], "nice": false, "zero": false}, "axis": null}, "y": {"field": "y1", "type": "quantitative", "scale": {"domain": [1, 4], "range": [10, 52], "nice": false, "zero": false}, "axis": null}, "y2": {"field": "y2"}}},
   {"data": {"name": "BC"}, "mark": {"type": "rule", "color": "#000", "strokeWidth": 1.3}, "encoding": {"x": {"field": "xa", "type": "quantitative", "scale": {"domain": [0, 245], "nice": false, "zero": false}, "axis": null}, "x2": {"field": "x"}, "y": {"field": "y1", "type": "quantitative", "scale": {"domain": [1, 4], "range": [10, 52], "nice": false, "zero": false}, "axis": null}}},
   {"data": {"name": "BC"}, "mark": {"type": "rule", "color": "#000", "strokeWidth": 1.3}, "encoding": {"x": {"field": "xa", "type": "quantitative", "scale": {"domain": [0, 245], "nice": false, "zero": false}, "axis": null}, "x2": {"field": "x"}, "y": {"field": "y2", "type": "quantitative", "scale": {"domain": [1, 4], "range": [10, 52], "nice": false, "zero": false}, "axis": null}}},
   {"data": {"name": "BC"}, "mark": {"type": "text", "align": "left", "baseline": "middle", "fontSize": 9, "dx": 2}, "encoding": {"x": {"field": "x", "type": "quantitative", "scale": {"domain": [0, 245], "nice": false, "zero": false}, "axis": null}, "y": {"field": "sy", "type": "quantitative", "scale": {"domain": [1, 4], "range": [10, 52], "nice": false, "zero": false}, "axis": null}, "text": {"field": "s"}}}
  ]
 },
 {
  "title": {"text": "D", "dx": -44},
  "width": 160, "height": 107,
  "data": {"name": "D"},
  "encoding": {
   "x": {"field": "d", "type": "quantitative", "scale": {"domain": [0, 40], "nice": false, "zero": false}, "axis": {"title": "Days post injection", "values": [0, 10, 20, 30, 40]}},
   "y": {"field": "v", "type": "quantitative", "scale": {"domain": [0, 200], "nice": false}, "axis": {"title": "Tumor size (mm²)", "values": [0, 50, 100, 150, 200]}}
  },
  "layer": [
   {"mark": {"type": "line", "strokeWidth": 1.1}, "encoding": {"color": {"field": "g", "type": "nominal", "scale": {"domain": ["D1","D2","D3","D4"], "range": ["#000000","#e41e1e","#000000","#e41e1e"]}, "legend": null}}},
   {"transform": [{"filter": "datum.e > 0"}], "mark": {"type": "errorbar", "ticks": {"size": 5}, "thickness": 1.1}, "encoding": {"yError": {"field": "e"}, "color": {"field": "g", "type": "nominal", "scale": {"domain": ["D1","D2","D3","D4"], "range": ["#000000","#e41e1e","#000000","#e41e1e"]}, "legend": null}}},
   {"mark": {"type": "point", "filled": true, "shape": "circle", "size": 30, "strokeWidth": 1.1, "opacity": 1}, "encoding": {"stroke": {"field": "g", "type": "nominal", "scale": {"domain": ["D1","D2","D3","D4"], "range": ["#000000","#e41e1e","#000000","#e41e1e"]}, "legend": null}, "fill": {"field": "g", "type": "nominal", "scale": {"domain": ["D1","D2","D3","D4"], "range": ["#000000","#e41e1e","#ffffff","#ffffff"]}, "legend": null}}}
  ]
 },
 {
  "width": 174, "height": 107,
  "layer": [
   {"data": {"name": "LD"}, "mark": {"type": "rule", "strokeWidth": 1.2}, "encoding": {"x": {"datum": -12, "type": "quantitative", "scale": {"domain": [0, 174], "nice": false, "zero": false}, "axis": null}, "x2": {"datum": -1}, "y": {"field": "r", "type": "quantitative", "scale": {"domain": [1, 4], "range": [9, 55], "nice": false, "zero": false}, "axis": null}, "color": {"field": "g", "type": "nominal", "scale": {"domain": ["D1","D2","D3","D4"], "range": ["#000000","#e41e1e","#000000","#e41e1e"]}, "legend": null}}},
   {"data": {"name": "LD"}, "mark": {"type": "point", "filled": true, "shape": "circle", "size": 30, "strokeWidth": 1.1, "opacity": 1}, "encoding": {"x": {"datum": -6.5, "type": "quantitative", "scale": {"domain": [0, 174], "nice": false, "zero": false}, "axis": null}, "y": {"field": "r", "type": "quantitative", "scale": {"domain": [1, 4], "range": [9, 55], "nice": false, "zero": false}, "axis": null}, "stroke": {"field": "g", "type": "nominal", "scale": {"domain": ["D1","D2","D3","D4"], "range": ["#000000","#e41e1e","#000000","#e41e1e"]}, "legend": null}, "fill": {"field": "g", "type": "nominal", "scale": {"domain": ["D1","D2","D3","D4"], "range": ["#000000","#e41e1e","#ffffff","#ffffff"]}, "legend": null}}},
   {"data": {"name": "LD"}, "transform": [{"filter": "datum.k == 'plain'"}], "mark": {"type": "text", "align": "left", "baseline": "middle", "fontSize": 9.5}, "encoding": {"x": {"datum": 6, "type": "quantitative", "scale": {"domain": [0, 174], "nice": false, "zero": false}, "axis": null}, "y": {"field": "r", "type": "quantitative", "scale": {"domain": [1, 4], "range": [9, 55], "nice": false, "zero": false}, "axis": null}, "text": {"field": "pre"}}},
   {"data": {"name": "LD"}, "transform": [{"filter": "datum.k == 'sub'"}], "mark": {"type": "text", "align": "left", "baseline": "middle", "fontSize": 9.5}, "encoding": {"x": {"datum": 6, "type": "quantitative", "scale": {"domain": [0, 174], "nice": false, "zero": false}, "axis": null}, "y": {"field": "r", "type": "quantitative", "scale": {"domain": [1, 4], "range": [9, 55], "nice": false, "zero": false}, "axis": null}, "text": {"field": "pre"}}},
   {"data": {"name": "LD"}, "transform": [{"filter": "datum.k == 'sub'"}], "mark": {"type": "text", "align": "left", "baseline": "middle", "fontSize": 6.2, "dx": 21.3, "dy": 3}, "encoding": {"x": {"datum": 6, "type": "quantitative", "scale": {"domain": [0, 174], "nice": false, "zero": false}, "axis": null}, "y": {"field": "r", "type": "quantitative", "scale": {"domain": [1, 4], "range": [9, 55], "nice": false, "zero": false}, "axis": null}, "text": {"field": "sup"}}},
   {"data": {"name": "LD"}, "transform": [{"filter": "datum.k == 'sub'"}], "mark": {"type": "text", "align": "left", "baseline": "middle", "fontSize": 9.5, "dx": 32}, "encoding": {"x": {"datum": 6, "type": "quantitative", "scale": {"domain": [0, 174], "nice": false, "zero": false}, "axis": null}, "y": {"field": "r", "type": "quantitative", "scale": {"domain": [1, 4], "range": [9, 55], "nice": false, "zero": false}, "axis": null}, "text": {"field": "rest"}}},
   {"data": {"name": "BD"}, "mark": {"type": "rule", "color": "#000", "strokeWidth": 1.3}, "encoding": {"x": {"field": "x", "type": "quantitative", "scale": {"domain": [0, 174], "nice": false, "zero": false}, "axis": null}, "y": {"field": "y1", "type": "quantitative", "scale": {"domain": [1, 4], "range": [9, 55], "nice": false, "zero": false}, "axis": null}, "y2": {"field": "y2"}}},
   {"data": {"name": "BD"}, "mark": {"type": "rule", "color": "#000", "strokeWidth": 1.3}, "encoding": {"x": {"field": "xa", "type": "quantitative", "scale": {"domain": [0, 174], "nice": false, "zero": false}, "axis": null}, "x2": {"field": "x"}, "y": {"field": "y1", "type": "quantitative", "scale": {"domain": [1, 4], "range": [9, 55], "nice": false, "zero": false}, "axis": null}}},
   {"data": {"name": "BD"}, "mark": {"type": "rule", "color": "#000", "strokeWidth": 1.3}, "encoding": {"x": {"field": "xa", "type": "quantitative", "scale": {"domain": [0, 174], "nice": false, "zero": false}, "axis": null}, "x2": {"field": "x"}, "y": {"field": "y2", "type": "quantitative", "scale": {"domain": [1, 4], "range": [9, 55], "nice": false, "zero": false}, "axis": null}}},
   {"data": {"name": "BD"}, "mark": {"type": "text", "align": "left", "baseline": "middle", "fontSize": 9, "dx": 2}, "encoding": {"x": {"field": "x", "type": "quantitative", "scale": {"domain": [0, 174], "nice": false, "zero": false}, "axis": null}, "y": {"field": "sy", "type": "quantitative", "scale": {"domain": [1, 4], "range": [9, 55], "nice": false, "zero": false}, "axis": null}, "text": {"field": "s"}}}
  ]
 },
 {
  "title": {"text": "E", "dx": -41},
  "width": 160, "height": 105,
  "data": {"name": "E"},
  "encoding": {
   "x": {"field": "d", "type": "quantitative", "scale": {"domain": [0, 50], "nice": false, "zero": false}, "axis": {"title": "Days post injection", "values": [0, 10, 20, 30, 40, 50]}},
   "y": {"field": "v", "type": "quantitative", "scale": {"domain": [0, 200], "nice": false}, "axis": {"title": "Tumor size (mm²)", "values": [0, 50, 100, 150, 200]}}
  },
  "layer": [
   {"mark": {"type": "line", "strokeWidth": 1.1}, "encoding": {"color": {"field": "g", "type": "nominal", "scale": {"domain": ["E1","E2","E3","E4","E5","E6"], "range": ["#000000","#2a2ae6","#e41e1e","#000000","#2a2ae6","#e41e1e"]}, "legend": null}}},
   {"transform": [{"filter": "datum.e > 0"}], "mark": {"type": "errorbar", "ticks": {"size": 5}, "thickness": 1.1}, "encoding": {"yError": {"field": "e"}, "color": {"field": "g", "type": "nominal", "scale": {"domain": ["E1","E2","E3","E4","E5","E6"], "range": ["#000000","#2a2ae6","#e41e1e","#000000","#2a2ae6","#e41e1e"]}, "legend": null}}},
   {"mark": {"type": "point", "filled": true, "shape": "circle", "size": 30, "strokeWidth": 1.1, "opacity": 1}, "encoding": {"stroke": {"field": "g", "type": "nominal", "scale": {"domain": ["E1","E2","E3","E4","E5","E6"], "range": ["#000000","#2a2ae6","#e41e1e","#000000","#2a2ae6","#e41e1e"]}, "legend": null}, "fill": {"field": "g", "type": "nominal", "scale": {"domain": ["E1","E2","E3","E4","E5","E6"], "range": ["#000000","#2a2ae6","#e41e1e","#ffffff","#ffffff","#ffffff"]}, "legend": null}}}
  ]
 },
 {
  "width": 245, "height": 105,
  "layer": [
   {"data": {"name": "LE"}, "mark": {"type": "rule", "strokeWidth": 1.2}, "encoding": {"x": {"datum": -5, "type": "quantitative", "scale": {"domain": [0, 245], "nice": false, "zero": false}, "axis": null}, "x2": {"datum": 5}, "y": {"field": "r", "type": "quantitative", "scale": {"domain": [1, 6], "range": [5, 84], "nice": false, "zero": false}, "axis": null}, "color": {"field": "g", "type": "nominal", "scale": {"domain": ["E1","E2","E3","E4","E5","E6"], "range": ["#000000","#2a2ae6","#e41e1e","#000000","#2a2ae6","#e41e1e"]}, "legend": null}}},
   {"data": {"name": "LE"}, "mark": {"type": "point", "filled": true, "shape": "circle", "size": 30, "strokeWidth": 1.1, "opacity": 1}, "encoding": {"x": {"datum": 0, "type": "quantitative", "scale": {"domain": [0, 245], "nice": false, "zero": false}, "axis": null}, "y": {"field": "r", "type": "quantitative", "scale": {"domain": [1, 6], "range": [5, 84], "nice": false, "zero": false}, "axis": null}, "stroke": {"field": "g", "type": "nominal", "scale": {"domain": ["E1","E2","E3","E4","E5","E6"], "range": ["#000000","#2a2ae6","#e41e1e","#000000","#2a2ae6","#e41e1e"]}, "legend": null}, "fill": {"field": "g", "type": "nominal", "scale": {"domain": ["E1","E2","E3","E4","E5","E6"], "range": ["#000000","#2a2ae6","#e41e1e","#ffffff","#ffffff","#ffffff"]}, "legend": null}}},
   {"data": {"name": "LE"}, "transform": [{"filter": "datum.k == 'plain'"}], "mark": {"type": "text", "align": "left", "baseline": "middle", "fontSize": 9}, "encoding": {"x": {"datum": 12, "type": "quantitative", "scale": {"domain": [0, 245], "nice": false, "zero": false}, "axis": null}, "y": {"field": "r", "type": "quantitative", "scale": {"domain": [1, 6], "range": [5, 84], "nice": false, "zero": false}, "axis": null}, "text": {"field": "pre"}}},
   {"data": {"name": "LE"}, "transform": [{"filter": "datum.k == 'ital'"}], "mark": {"type": "text", "align": "left", "baseline": "middle", "fontSize": 9, "fontStyle": "italic"}, "encoding": {"x": {"datum": 12, "type": "quantitative", "scale": {"domain": [0, 245], "nice": false, "zero": false}, "axis": null}, "y": {"field": "r", "type": "quantitative", "scale": {"domain": [1, 6], "range": [5, 84], "nice": false, "zero": false}, "axis": null}, "text": {"field": "pre"}}},
   {"data": {"name": "LE"}, "transform": [{"filter": "datum.k == 'ital'"}], "mark": {"type": "text", "align": "left", "baseline": "middle", "fontSize": 6, "dx": 23.2, "dy": -3.3}, "encoding": {"x": {"datum": 12, "type": "quantitative", "scale": {"domain": [0, 245], "nice": false, "zero": false}, "axis": null}, "y": {"field": "r", "type": "quantitative", "scale": {"domain": [1, 6], "range": [5, 84], "nice": false, "zero": false}, "axis": null}, "text": {"field": "sup"}}},
   {"data": {"name": "LE"}, "transform": [{"filter": "datum.k == 'ital'"}], "mark": {"type": "text", "align": "left", "baseline": "middle", "fontSize": 9, "dx": 31}, "encoding": {"x": {"datum": 12, "type": "quantitative", "scale": {"domain": [0, 245], "nice": false, "zero": false}, "axis": null}, "y": {"field": "r", "type": "quantitative", "scale": {"domain": [1, 6], "range": [5, 84], "nice": false, "zero": false}, "axis": null}, "text": {"field": "rest"}}},
   {"data": {"name": "BE"}, "mark": {"type": "rule", "color": "#000", "strokeWidth": 1.3}, "encoding": {"x": {"field": "x", "type": "quantitative", "scale": {"domain": [0, 245], "nice": false, "zero": false}, "axis": null}, "y": {"field": "y1", "type": "quantitative", "scale": {"domain": [1, 6], "range": [5, 84], "nice": false, "zero": false}, "axis": null}, "y2": {"field": "y2"}}},
   {"data": {"name": "BE"}, "mark": {"type": "rule", "color": "#000", "strokeWidth": 1.3}, "encoding": {"x": {"field": "xa", "type": "quantitative", "scale": {"domain": [0, 245], "nice": false, "zero": false}, "axis": null}, "x2": {"field": "x"}, "y": {"field": "y1", "type": "quantitative", "scale": {"domain": [1, 6], "range": [5, 84], "nice": false, "zero": false}, "axis": null}}},
   {"data": {"name": "BE"}, "mark": {"type": "rule", "color": "#000", "strokeWidth": 1.3}, "encoding": {"x": {"field": "xa", "type": "quantitative", "scale": {"domain": [0, 245], "nice": false, "zero": false}, "axis": null}, "x2": {"field": "x"}, "y": {"field": "y2", "type": "quantitative", "scale": {"domain": [1, 6], "range": [5, 84], "nice": false, "zero": false}, "axis": null}}},
   {"data": {"name": "BE"}, "mark": {"type": "text", "align": "left", "baseline": "middle", "fontSize": 9, "dx": 2}, "encoding": {"x": {"field": "x", "type": "quantitative", "scale": {"domain": [0, 245], "nice": false, "zero": false}, "axis": null}, "y": {"field": "sy", "type": "quantitative", "scale": {"domain": [1, 6], "range": [5, 84], "nice": false, "zero": false}, "axis": null}, "text": {"field": "s"}}}
  ]
 },
 {
  "title": {"text": "F", "dx": -44},
  "width": 160, "height": 105,
  "data": {"name": "F"},
  "encoding": {
   "x": {"field": "d", "type": "quantitative", "scale": {"domain": [0, 40], "nice": false, "zero": false}, "axis": {"title": "Days post injection", "values": [0, 10, 20, 30, 40]}},
   "y": {"field": "v", "type": "quantitative", "scale": {"domain": [0, 200], "nice": false}, "axis": {"title": "Tumor size (mm²)", "values": [0, 50, 100, 150, 200]}}
  },
  "layer": [
   {"mark": {"type": "line", "strokeWidth": 1.1}, "encoding": {"color": {"field": "g", "type": "nominal", "scale": {"domain": ["F1","F2","F3","F4"], "range": ["#000000","#e41e1e","#000000","#e41e1e"]}, "legend": null}}},
   {"transform": [{"filter": "datum.e > 0"}], "mark": {"type": "errorbar", "ticks": {"size": 5}, "thickness": 1.1}, "encoding": {"yError": {"field": "e"}, "color": {"field": "g", "type": "nominal", "scale": {"domain": ["F1","F2","F3","F4"], "range": ["#000000","#e41e1e","#000000","#e41e1e"]}, "legend": null}}},
   {"mark": {"type": "point", "filled": true, "shape": "circle", "size": 30, "strokeWidth": 1.1, "opacity": 1}, "encoding": {"stroke": {"field": "g", "type": "nominal", "scale": {"domain": ["F1","F2","F3","F4"], "range": ["#000000","#e41e1e","#000000","#e41e1e"]}, "legend": null}, "fill": {"field": "g", "type": "nominal", "scale": {"domain": ["F1","F2","F3","F4"], "range": ["#000000","#e41e1e","#ffffff","#ffffff"]}, "legend": null}}}
  ]
 },
 {
  "width": 174, "height": 105,
  "layer": [
   {"data": {"name": "LF"}, "mark": {"type": "rule", "strokeWidth": 1.2}, "encoding": {"x": {"datum": 1, "type": "quantitative", "scale": {"domain": [0, 174], "nice": false, "zero": false}, "axis": null}, "x2": {"datum": 13}, "y": {"field": "r", "type": "quantitative", "scale": {"domain": [1, 4], "range": [7, 54], "nice": false, "zero": false}, "axis": null}, "color": {"field": "g", "type": "nominal", "scale": {"domain": ["F1","F2","F3","F4"], "range": ["#000000","#e41e1e","#000000","#e41e1e"]}, "legend": null}}},
   {"data": {"name": "LF"}, "mark": {"type": "point", "filled": true, "shape": "circle", "size": 30, "strokeWidth": 1.1, "opacity": 1}, "encoding": {"x": {"datum": 7, "type": "quantitative", "scale": {"domain": [0, 174], "nice": false, "zero": false}, "axis": null}, "y": {"field": "r", "type": "quantitative", "scale": {"domain": [1, 4], "range": [7, 54], "nice": false, "zero": false}, "axis": null}, "stroke": {"field": "g", "type": "nominal", "scale": {"domain": ["F1","F2","F3","F4"], "range": ["#000000","#e41e1e","#000000","#e41e1e"]}, "legend": null}, "fill": {"field": "g", "type": "nominal", "scale": {"domain": ["F1","F2","F3","F4"], "range": ["#000000","#e41e1e","#ffffff","#ffffff"]}, "legend": null}}},
   {"data": {"name": "LF"}, "transform": [{"filter": "datum.k == 'plain'"}], "mark": {"type": "text", "align": "left", "baseline": "middle", "fontSize": 9}, "encoding": {"x": {"datum": 22, "type": "quantitative", "scale": {"domain": [0, 174], "nice": false, "zero": false}, "axis": null}, "y": {"field": "r", "type": "quantitative", "scale": {"domain": [1, 4], "range": [7, 54], "nice": false, "zero": false}, "axis": null}, "text": {"field": "pre"}}},
   {"data": {"name": "LF"}, "transform": [{"filter": "datum.k == 'sub'"}], "mark": {"type": "text", "align": "left", "baseline": "middle", "fontSize": 9}, "encoding": {"x": {"datum": 22, "type": "quantitative", "scale": {"domain": [0, 174], "nice": false, "zero": false}, "axis": null}, "y": {"field": "r", "type": "quantitative", "scale": {"domain": [1, 4], "range": [7, 54], "nice": false, "zero": false}, "axis": null}, "text": {"field": "pre"}}},
   {"data": {"name": "LF"}, "transform": [{"filter": "datum.k == 'sub'"}], "mark": {"type": "text", "align": "left", "baseline": "middle", "fontSize": 5.9, "dx": 20.2, "dy": 3}, "encoding": {"x": {"datum": 22, "type": "quantitative", "scale": {"domain": [0, 174], "nice": false, "zero": false}, "axis": null}, "y": {"field": "r", "type": "quantitative", "scale": {"domain": [1, 4], "range": [7, 54], "nice": false, "zero": false}, "axis": null}, "text": {"field": "sup"}}},
   {"data": {"name": "LF"}, "transform": [{"filter": "datum.k == 'sub'"}], "mark": {"type": "text", "align": "left", "baseline": "middle", "fontSize": 9, "dx": 30.3}, "encoding": {"x": {"datum": 22, "type": "quantitative", "scale": {"domain": [0, 174], "nice": false, "zero": false}, "axis": null}, "y": {"field": "r", "type": "quantitative", "scale": {"domain": [1, 4], "range": [7, 54], "nice": false, "zero": false}, "axis": null}, "text": {"field": "rest"}}},
   {"data": {"name": "BF"}, "mark": {"type": "rule", "color": "#000", "strokeWidth": 1.3}, "encoding": {"x": {"field": "x", "type": "quantitative", "scale": {"domain": [0, 174], "nice": false, "zero": false}, "axis": null}, "y": {"field": "y1", "type": "quantitative", "scale": {"domain": [1, 4], "range": [7, 54], "nice": false, "zero": false}, "axis": null}, "y2": {"field": "y2"}}},
   {"data": {"name": "BF"}, "mark": {"type": "rule", "color": "#000", "strokeWidth": 1.3}, "encoding": {"x": {"field": "xa", "type": "quantitative", "scale": {"domain": [0, 174], "nice": false, "zero": false}, "axis": null}, "x2": {"field": "x"}, "y": {"field": "y1", "type": "quantitative", "scale": {"domain": [1, 4], "range": [7, 54], "nice": false, "zero": false}, "axis": null}}},
   {"data": {"name": "BF"}, "mark": {"type": "rule", "color": "#000", "strokeWidth": 1.3}, "encoding": {"x": {"field": "xa", "type": "quantitative", "scale": {"domain": [0, 174], "nice": false, "zero": false}, "axis": null}, "x2": {"field": "x"}, "y": {"field": "y2", "type": "quantitative", "scale": {"domain": [1, 4], "range": [7, 54], "nice": false, "zero": false}, "axis": null}}},
   {"data": {"name": "BF"}, "mark": {"type": "text", "align": "left", "baseline": "middle", "fontSize": 9, "dx": 2}, "encoding": {"x": {"field": "x", "type": "quantitative", "scale": {"domain": [0, 174], "nice": false, "zero": false}, "axis": null}, "y": {"field": "sy", "type": "quantitative", "scale": {"domain": [1, 4], "range": [7, 54], "nice": false, "zero": false}, "axis": null}, "text": {"field": "s"}}}
  ]
 },
 {
  "title": {"text": "G", "dx": -41},
  "width": 160, "height": 107,
  "data": {"name": "G"},
  "encoding": {
   "x": {"field": "d", "type": "quantitative", "scale": {"domain": [0, 40], "nice": false, "zero": false}, "axis": {"title": "Days post injection", "values": [0, 10, 20, 30, 40]}},
   "y": {"field": "v", "type": "quantitative", "scale": {"domain": [0, 200], "nice": false}, "axis": {"title": "Tumor size (mm²)", "values": [0, 50, 100, 150, 200]}}
  },
  "layer": [
   {"mark": {"type": "line", "strokeWidth": 1.1}, "encoding": {"color": {"field": "g", "type": "nominal", "scale": {"domain": ["G1","G2","G3","G4","G5","G6","G7","G8"], "range": ["#000000","#000000","#000000","#000000","#e41e1e","#e41e1e","#e41e1e","#e41e1e"]}, "legend": null}}},
   {"transform": [{"filter": "datum.e > 0"}], "mark": {"type": "errorbar", "ticks": {"size": 5}, "thickness": 1.1}, "encoding": {"yError": {"field": "e"}, "color": {"field": "g", "type": "nominal", "scale": {"domain": ["G1","G2","G3","G4","G5","G6","G7","G8"], "range": ["#000000","#000000","#000000","#000000","#e41e1e","#e41e1e","#e41e1e","#e41e1e"]}, "legend": null}}},
   {"mark": {"type": "point", "filled": true, "size": 30, "strokeWidth": 1.1, "opacity": 1}, "encoding": {"stroke": {"field": "g", "type": "nominal", "scale": {"domain": ["G1","G2","G3","G4","G5","G6","G7","G8"], "range": ["#000000","#000000","#000000","#000000","#e41e1e","#e41e1e","#e41e1e","#e41e1e"]}, "legend": null}, "fill": {"field": "g", "type": "nominal", "scale": {"domain": ["G1","G2","G3","G4","G5","G6","G7","G8"], "range": ["#000000","#ffffff","#000000","#ffffff","#e41e1e","#ffffff","#e41e1e","#ffffff"]}, "legend": null}, "shape": {"field": "g", "type": "nominal", "scale": {"domain": ["G1","G2","G3","G4","G5","G6","G7","G8"], "range": ["circle","circle","square","square","circle","circle","square","square"]}, "legend": null}}}
  ]
 },
 {
  "width": 245, "height": 107,
  "layer": [
   {"data": {"name": "LG"}, "mark": {"type": "rule", "strokeWidth": 1.2}, "encoding": {"x": {"datum": 12, "type": "quantitative", "scale": {"domain": [0, 245], "nice": false, "zero": false}, "axis": null}, "x2": {"datum": 24}, "y": {"field": "r", "type": "quantitative", "scale": {"domain": [1, 8], "range": [14, 122], "nice": false, "zero": false}, "axis": null}, "color": {"field": "g", "type": "nominal", "scale": {"domain": ["G1","G2","G3","G4","G5","G6","G7","G8"], "range": ["#000000","#000000","#000000","#000000","#e41e1e","#e41e1e","#e41e1e","#e41e1e"]}, "legend": null}}},
   {"data": {"name": "LG"}, "mark": {"type": "point", "filled": true, "size": 30, "strokeWidth": 1.1, "opacity": 1}, "encoding": {"x": {"datum": 18, "type": "quantitative", "scale": {"domain": [0, 245], "nice": false, "zero": false}, "axis": null}, "y": {"field": "r", "type": "quantitative", "scale": {"domain": [1, 8], "range": [14, 122], "nice": false, "zero": false}, "axis": null}, "stroke": {"field": "g", "type": "nominal", "scale": {"domain": ["G1","G2","G3","G4","G5","G6","G7","G8"], "range": ["#000000","#000000","#000000","#000000","#e41e1e","#e41e1e","#e41e1e","#e41e1e"]}, "legend": null}, "fill": {"field": "g", "type": "nominal", "scale": {"domain": ["G1","G2","G3","G4","G5","G6","G7","G8"], "range": ["#000000","#ffffff","#000000","#ffffff","#e41e1e","#ffffff","#e41e1e","#ffffff"]}, "legend": null}, "shape": {"field": "g", "type": "nominal", "scale": {"domain": ["G1","G2","G3","G4","G5","G6","G7","G8"], "range": ["circle","circle","square","square","circle","circle","square","square"]}, "legend": null}}},
   {"data": {"name": "LG"}, "transform": [{"filter": "datum.k == 'plain'"}], "mark": {"type": "text", "align": "left", "baseline": "middle", "fontSize": 10}, "encoding": {"x": {"datum": 27, "type": "quantitative", "scale": {"domain": [0, 245], "nice": false, "zero": false}, "axis": null}, "y": {"field": "r", "type": "quantitative", "scale": {"domain": [1, 8], "range": [14, 122], "nice": false, "zero": false}, "axis": null}, "text": {"field": "pre"}}},
   {"data": {"name": "LG"}, "transform": [{"filter": "datum.k == 'ital'"}], "mark": {"type": "text", "align": "left", "baseline": "middle", "fontSize": 10, "fontStyle": "italic"}, "encoding": {"x": {"datum": 27, "type": "quantitative", "scale": {"domain": [0, 245], "nice": false, "zero": false}, "axis": null}, "y": {"field": "r", "type": "quantitative", "scale": {"domain": [1, 8], "range": [14, 122], "nice": false, "zero": false}, "axis": null}, "text": {"field": "pre"}}},
   {"data": {"name": "LG"}, "transform": [{"filter": "datum.k == 'ital'"}], "mark": {"type": "text", "align": "left", "baseline": "middle", "fontSize": 6.5, "dx": 25.8, "dy": -3.6}, "encoding": {"x": {"datum": 27, "type": "quantitative", "scale": {"domain": [0, 245], "nice": false, "zero": false}, "axis": null}, "y": {"field": "r", "type": "quantitative", "scale": {"domain": [1, 8], "range": [14, 122], "nice": false, "zero": false}, "axis": null}, "text": {"field": "sup"}}},
   {"data": {"name": "LG"}, "transform": [{"filter": "datum.k == 'ital'"}], "mark": {"type": "text", "align": "left", "baseline": "middle", "fontSize": 10, "dx": 34.5}, "encoding": {"x": {"datum": 27, "type": "quantitative", "scale": {"domain": [0, 245], "nice": false, "zero": false}, "axis": null}, "y": {"field": "r", "type": "quantitative", "scale": {"domain": [1, 8], "range": [14, 122], "nice": false, "zero": false}, "axis": null}, "text": {"field": "rest"}}},
   {"data": {"name": "BG"}, "mark": {"type": "rule", "color": "#000", "strokeWidth": 1.3}, "encoding": {"x": {"field": "x", "type": "quantitative", "scale": {"domain": [0, 245], "nice": false, "zero": false}, "axis": null}, "y": {"field": "y1", "type": "quantitative", "scale": {"domain": [1, 8], "range": [14, 122], "nice": false, "zero": false}, "axis": null}, "y2": {"field": "y2"}}},
   {"data": {"name": "BG"}, "mark": {"type": "rule", "color": "#000", "strokeWidth": 1.3}, "encoding": {"x": {"field": "xa", "type": "quantitative", "scale": {"domain": [0, 245], "nice": false, "zero": false}, "axis": null}, "x2": {"field": "x"}, "y": {"field": "y1", "type": "quantitative", "scale": {"domain": [1, 8], "range": [14, 122], "nice": false, "zero": false}, "axis": null}}},
   {"data": {"name": "BG"}, "mark": {"type": "rule", "color": "#000", "strokeWidth": 1.3}, "encoding": {"x": {"field": "xa", "type": "quantitative", "scale": {"domain": [0, 245], "nice": false, "zero": false}, "axis": null}, "x2": {"field": "x"}, "y": {"field": "y2", "type": "quantitative", "scale": {"domain": [1, 8], "range": [14, 122], "nice": false, "zero": false}, "axis": null}}},
   {"data": {"name": "BG"}, "mark": {"type": "text", "align": "left", "baseline": "middle", "fontSize": 9, "dx": 2}, "encoding": {"x": {"field": "x", "type": "quantitative", "scale": {"domain": [0, 245], "nice": false, "zero": false}, "axis": null}, "y": {"field": "sy", "type": "quantitative", "scale": {"domain": [1, 8], "range": [14, 122], "nice": false, "zero": false}, "axis": null}, "text": {"field": "s"}}}
  ]
 }
]
}
